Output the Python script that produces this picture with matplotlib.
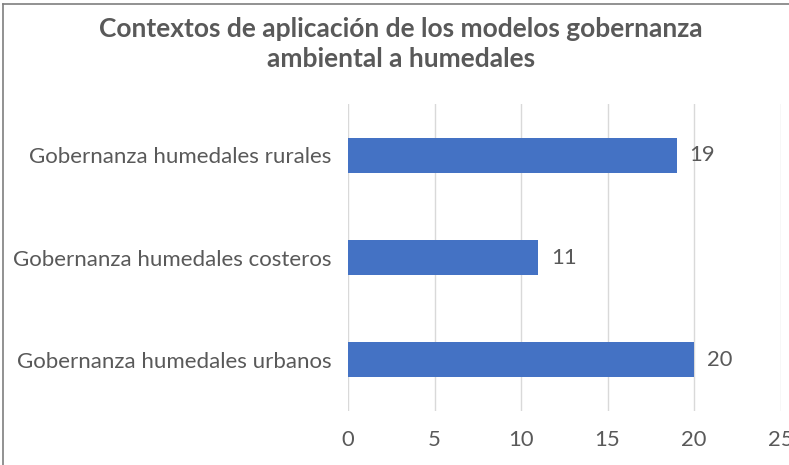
import matplotlib
matplotlib.use("Agg")
import matplotlib.pyplot as plt
from matplotlib.lines import Line2D

categories = ["Gobernanza humedales urbanos", "Gobernanza humedales costeros", "Gobernanza humedales rurales"]
values = [20, 11, 19]
xticks = [0, 5, 10, 15, 20, 25]
title = "Contextos de aplicación de los modelos gobernanza\nambiental a humedales"

plt.rcParams['font.family'] = ['Lato', 'DejaVu Sans']
txt = '#595959'

fig = plt.figure(figsize=(7.89, 4.65), dpi=100)
ax = fig.add_axes([348/789, 1-411/465, (780.5-348)/789, (411-104)/465])

y = range(len(categories))
ax.barh(list(y), values, height=0.345, color='#4472C4', zorder=3)
for yi, v in zip(y, values):
    ax.text(v + 0.75, yi, str(v), va='center', ha='left', fontsize=15.8, color=txt)

ax.set_xlim(0, 25)
ax.set_ylim(-0.5, 2.5)
ax.set_xticks(xticks)
ax.set_xticklabels([str(t) for t in xticks], fontsize=15.8, color=txt)
ax.set_yticks(list(y))
ax.set_yticklabels(categories, fontsize=16, color=txt)
ax.tick_params(axis='both', length=0)
ax.tick_params(axis='x', pad=14)
ax.tick_params(axis='y', pad=12)
ax.grid(axis='x', color='#D9D9D9', linewidth=1, zorder=0)
for s in ax.spines.values():
    s.set_visible(False)

fig.text(401/789, 1-44/465, title, ha='center', va='center', fontsize=19,
         fontweight='bold', color=txt, linespacing=1.3)

fig.add_artist(Line2D([3/789, 3/789], [0, 1-4/465], transform=fig.transFigure, color='#7f7f7f', lw=1.2))
fig.add_artist(Line2D([3/789, 1], [1-4/465, 1-4/465], transform=fig.transFigure, color='#7f7f7f', lw=1.2))

fig.savefig("out.png", dpi=100)
